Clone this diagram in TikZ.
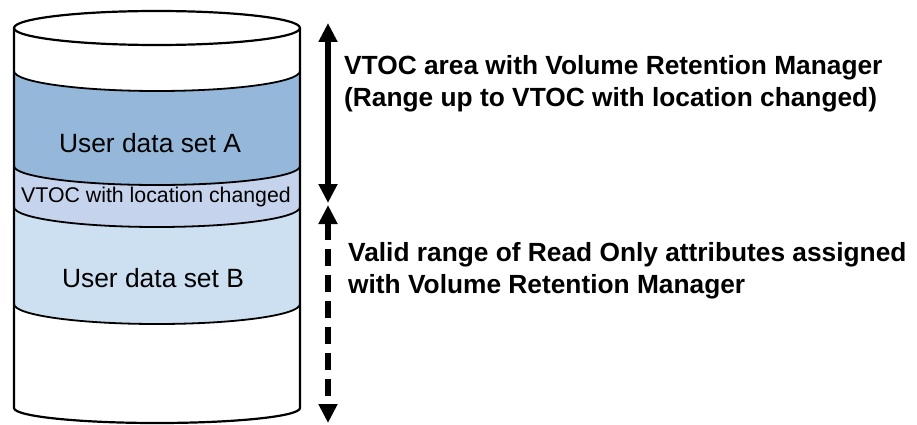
\documentclass[tikz,border=0pt]{standalone}
\usepackage{fontspec}
\setmainfont{Liberation Sans}
\usetikzlibrary{arrows.meta}
\definecolor{colA}{HTML}{95B8DA}
\definecolor{colV}{HTML}{C6D3EC}
\definecolor{colB}{HTML}{CDE0F1}
\tikzset{
  outline/.style={draw=black,line width=2.2pt},
  sep/.style={draw=black,line width=1.8pt},
  cyltext/.style={inner sep=0pt,font=\fontsize{26.4}{30}\selectfont},
  sidetext/.style={inner sep=0pt,align=left,anchor=west,font=\fontsize{26.3}{32.5}\selectfont\bfseries},
  rangearrow/.style={line width=5.5pt,{Triangle[width=18pt,length=19pt]}-{Triangle[width=18pt,length=19pt]}}
}
\begin{document}
\begin{tikzpicture}[x=1pt,y=1pt]
\useasboundingbox (0,0) rectangle (917,424);
% band fills
\fill[colA] (14,353) arc[start angle=180,end angle=360,x radius=143,y radius=20]
  -- (300,258) arc[start angle=0,end angle=-180,x radius=143,y radius=19] -- cycle;
\fill[colV] (14,258) arc[start angle=180,end angle=360,x radius=143,y radius=19]
  -- (300,217) arc[start angle=0,end angle=-180,x radius=143,y radius=20] -- cycle;
\fill[colB] (14,217) arc[start angle=180,end angle=360,x radius=143,y radius=20]
  -- (300,120) arc[start angle=0,end angle=-180,x radius=143,y radius=20] -- cycle;
% band boundaries
\draw[sep] (14,353) arc[start angle=180,end angle=360,x radius=143,y radius=20];
\draw[sep] (14,258) arc[start angle=180,end angle=360,x radius=143,y radius=19];
\draw[sep] (14,217) arc[start angle=180,end angle=360,x radius=143,y radius=20];
\draw[sep] (14,120) arc[start angle=180,end angle=360,x radius=143,y radius=20];
% cylinder outline
\draw[outline] (157,396) ellipse[x radius=143,y radius=17];
\draw[outline,line join=round] (14,396) -- (14,16) arc[start angle=180,end angle=360,x radius=143,y radius=15] -- (300,396);
% texts in the cylinder
\node[cyltext] (setA) at (150,281) {User data set A};
\node[cyltext,font=\fontsize{21.3}{25}\selectfont] (vtoc) at (156,227) {VTOC with location changed};
\node[cyltext] (setB) at (153,146) {User data set B};
% arrows
\coordinate (a1) at (328,401);
\coordinate (a2) at (328,221);
\coordinate (b1) at (328,219);
\coordinate (b2) at (328,1);
\draw[rangearrow] (a2) -- (a1);
\draw[rangearrow,dash pattern=on 17pt off 9pt] (b1) -- (b2);
% side texts
\node[sidetext] (t1) at (344,340) {VTOC area with Volume Retention Manager\\(Range up to VTOC with location changed)};
\node[sidetext] (t2) at (348,153) {Valid range of Read Only attributes assigned\\with Volume Retention Manager};
\end{tikzpicture}
\end{document}
